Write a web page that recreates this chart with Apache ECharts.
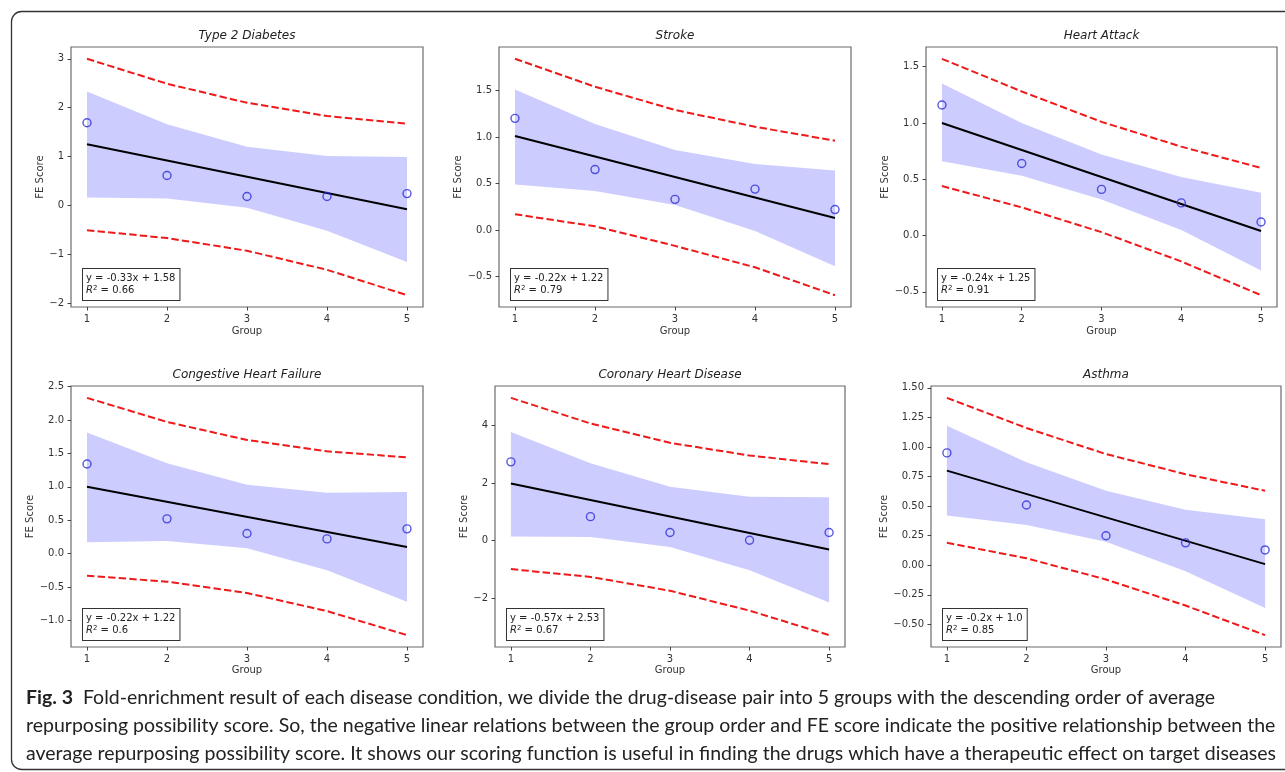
<!DOCTYPE html>
<html>
<head>
<meta charset="utf-8">
<script src="https://cdn.jsdelivr.net/npm/echarts@6/dist/echarts.min.js"></script>
<style>
html,body{margin:0;padding:0;background:#fff;}
#chart{width:1285px;height:772px;}
</style>
</head>
<body>
<div id="chart"></div>
<script>
// ---------------- data ----------------
const groups = [1, 2, 3, 4, 5];
const titles = ['Type 2 Diabetes', 'Stroke', 'Heart Attack', 'Congestive Heart Failure', 'Coronary Heart Disease', 'Asthma'];
const observed = [
  [1.69, 0.61, 0.18, 0.18, 0.24],
  [1.20, 0.65, 0.33, 0.44, 0.22],
  [1.16, 0.64, 0.41, 0.29, 0.12],
  [1.34, 0.52, 0.30, 0.22, 0.37],
  [2.73, 0.83, 0.28, 0.01, 0.28],
  [0.95, 0.51, 0.25, 0.19, 0.13]
];
// fitted line value at group 1 and group 5
const fitEnds = [
  [1.25, -0.08],
  [1.01, 0.13],
  [1.00, 0.04],
  [1.00, 0.10],
  [1.98, -0.31],
  [0.80, 0.01]
];
const ciUpper = [
  [2.33, 1.66, 1.20, 1.01, 0.99],
  [1.51, 1.14, 0.86, 0.71, 0.64],
  [1.35, 1.00, 0.72, 0.52, 0.38],
  [1.81, 1.35, 1.03, 0.91, 0.92],
  [3.77, 2.68, 1.87, 1.52, 1.50],
  [1.18, 0.87, 0.63, 0.47, 0.39]
];
const ciLower = [
  [0.16, 0.14, -0.05, -0.52, -1.16],
  [0.49, 0.42, 0.27, -0.01, -0.39],
  [0.66, 0.53, 0.32, 0.05, -0.31],
  [0.17, 0.19, 0.08, -0.25, -0.72],
  [0.14, 0.12, -0.22, -1.03, -2.15],
  [0.42, 0.34, 0.20, -0.05, -0.36]
];
const piUpper = [
  [3.00, 2.49, 2.10, 1.83, 1.67],
  [1.84, 1.54, 1.29, 1.11, 0.96],
  [1.57, 1.28, 1.01, 0.79, 0.60],
  [2.33, 1.97, 1.70, 1.53, 1.44],
  [4.95, 4.06, 3.39, 2.95, 2.65],
  [1.415, 1.16, 0.94, 0.77, 0.63]
];
const piLower = [
  [-0.51, -0.67, -0.93, -1.32, -1.84],
  [0.17, 0.04, -0.17, -0.40, -0.70],
  [0.44, 0.25, 0.03, -0.23, -0.53],
  [-0.33, -0.42, -0.59, -0.86, -1.22],
  [-0.99, -1.26, -1.74, -2.43, -3.28],
  [0.19, 0.06, -0.12, -0.34, -0.59]
];
const xTickLabels = ['1', '2', '3', '4', '5'];
const yTickLabels = [
  ['3', '2', '1', '0', '\u22121', '\u22122'],
  ['1.5', '1.0', '0.5', '0.0', '\u22120.5'],
  ['1.5', '1.0', '0.5', '0.0', '\u22120.5'],
  ['2.5', '2.0', '1.5', '1.0', '0.5', '0.0', '\u22120.5', '\u22121.0'],
  ['4', '2', '0', '\u22122'],
  ['1.50', '1.25', '1.00', '0.75', '0.50', '0.25', '0.00', '\u22120.25', '\u22120.50']
];
const equations = ['y = -0.33x + 1.58', 'y = -0.22x + 1.22', 'y = -0.24x + 1.25', 'y = -0.22x + 1.22', 'y = -0.57x + 2.53', 'y = -0.2x + 1.0'];
const r2Values = ['0.66', '0.79', '0.91', '0.6', '0.67', '0.85'];
const xAxisName = 'Group';
const yAxisName = 'FE Score';
const captionBold = 'Fig. 3';
const captionLines = [
  'Fold-enrichment result of each disease condition, we divide the drug-disease pair into 5 groups with the descending order of average',
  'repurposing possibility score. So, the negative linear relations between the group order and FE score indicate the positive relationship between the',
  'average repurposing possibility score. It shows our scoring function is useful in finding the drugs which have a therapeutic effect on target diseases'
];

// ---------------- layout ----------------
const gridBoxes = [
  {left: 71, top: 47, width: 352, height: 260},
  {left: 499, top: 47, width: 352, height: 260},
  {left: 926, top: 47, width: 351, height: 260},
  {left: 71, top: 386, width: 352, height: 261},
  {left: 495, top: 386, width: 350, height: 261},
  {left: 931, top: 386, width: 350, height: 261}
];
const yNameGaps = [26, 35, 36, 35, 26, 42];
const FONT = '"DejaVu Sans", sans-serif';
const parseTick = s => parseFloat(s.replace('\u2212', '-'));

const grid = [], xAxis = [], yAxis = [], series = [], graphic = [];

gridBoxes.forEach((b, k) => {
  grid.push(Object.assign({show: true, borderColor: '#6a6a6a', borderWidth: 1.2, backgroundColor: 'rgba(0,0,0,0)', containLabel: false}, b));

  const all = [].concat(piUpper[k], piLower[k], ciUpper[k], ciLower[k], observed[k]);
  const lo = Math.min.apply(null, all), hi = Math.max.apply(null, all);
  const pad = (hi - lo) * 0.05;
  const xPad = (groups[groups.length - 1] - groups[0]) * 0.05;
  const xVals = xTickLabels.map(parseTick);
  const yVals = yTickLabels[k].map(parseTick);
  const labelMap = {};
  yTickLabels[k].forEach((s, i) => { labelMap[yVals[i]] = s; });

  xAxis.push({
    type: 'value', gridIndex: k, position: 'bottom',
    min: groups[0] - xPad, max: groups[groups.length - 1] + xPad,
    axisLine: {show: false, onZero: false},
    splitLine: {show: false},
    axisTick: {show: true, length: 3.5, customValues: xVals, lineStyle: {color: '#333', width: 0.9}},
    axisLabel: {show: true, customValues: xVals, margin: 7, color: '#333', fontSize: 10, fontFamily: FONT,
      formatter: v => xTickLabels[xVals.indexOf(v)] || String(v)},
    name: xAxisName, nameLocation: 'middle', nameGap: k < 3 ? 19 : 18,
    nameTextStyle: {color: '#333', fontSize: 10, fontFamily: FONT}
  });
  yAxis.push({
    type: 'value', gridIndex: k, position: 'left',
    min: lo - pad, max: hi + pad,
    axisLine: {show: false, onZero: false},
    splitLine: {show: false},
    axisTick: {show: true, length: 3.5, customValues: yVals, lineStyle: {color: '#333', width: 0.9}},
    axisLabel: {show: true, customValues: yVals, margin: 7, color: '#333', fontSize: 10, fontFamily: FONT,
      formatter: v => labelMap[v] !== undefined ? labelMap[v] : String(v)},
    name: yAxisName, nameLocation: 'middle', nameGap: yNameGaps[k],
    nameTextStyle: {color: '#333', fontSize: 10, fontFamily: FONT}
  });

  // confidence band
  series.push({
    type: 'custom', xAxisIndex: k, yAxisIndex: k, z: 1, silent: true,
    data: [[groups[0], ciUpper[k][0]]],
    renderItem: (params, api) => {
      const pts = [];
      groups.forEach((g, i) => pts.push(api.coord([g, ciUpper[k][i]])));
      for (let i = groups.length - 1; i >= 0; i--) pts.push(api.coord([groups[i], ciLower[k][i]]));
      return {type: 'polygon', shape: {points: pts}, style: {fill: 'rgba(0,0,255,0.2)', stroke: 'none'}};
    }
  });
  // prediction interval lines
  [piUpper[k], piLower[k]].forEach(arr => {
    series.push({
      type: 'line', xAxisIndex: k, yAxisIndex: k, z: 3, symbol: 'none', silent: true,
      data: groups.map((g, i) => [g, arr[i]]),
      lineStyle: {color: '#ee1a1a', width: 2, type: [7.4, 3.2]}
    });
  });
  // fitted regression line
  series.push({
    type: 'line', xAxisIndex: k, yAxisIndex: k, z: 4, symbol: 'none', silent: true,
    data: [[groups[0], fitEnds[k][0]], [groups[groups.length - 1], fitEnds[k][1]]],
    lineStyle: {color: '#000', width: 2}
  });
  // observed points
  series.push({
    type: 'scatter', xAxisIndex: k, yAxisIndex: k, z: 5, silent: true,
    data: groups.map((g, i) => [g, observed[k][i]]),
    symbol: 'circle', symbolSize: 8,
    itemStyle: {color: 'rgba(0,0,0,0)', borderColor: '#2c2cd6', borderWidth: 1.4}
  });

  // panel title
  graphic.push({
    type: 'text', x: b.left + b.width / 2, y: b.top - 11, silent: true,
    style: {text: titles[k], align: 'center', verticalAlign: 'middle', fill: '#222',
      fontSize: 12, fontStyle: 'italic', fontFamily: FONT}
  });
  // equation box
  graphic.push({
    type: 'text', x: b.left + 12, y: b.top + b.height - 7, z: 10, silent: true,
    style: {
      text: '{a|' + equations[k] + '}\n{i|R}{s|2}{a| = ' + r2Values[k] + '}',
      align: 'left', verticalAlign: 'bottom',
      backgroundColor: '#fff', borderColor: '#333', borderWidth: 1,
      padding: [3, 4, 3, 3],
      rich: {
        a: {fontSize: 10, fontFamily: FONT, fill: '#222', lineHeight: 12.5},
        i: {fontSize: 10, fontFamily: FONT, fontStyle: 'italic', fill: '#222', lineHeight: 12.5},
        s: {fontSize: 7, fontFamily: FONT, fill: '#222', lineHeight: 12.5, padding: [0, 0, 5, 0]}
      }
    }
  });
});

// outer frame
graphic.push({
  type: 'rect', silent: true, z: 0,
  shape: {x: 11.5, y: 11.5, width: 1300, height: 758, r: 10},
  style: {fill: 'none', stroke: '#333', lineWidth: 1.3}
});
// caption
const capY = [698, 726, 754];
captionLines.forEach((line, i) => {
  graphic.push({
    type: 'text', x: 26, y: capY[i], silent: true,
    style: {
      text: i === 0 ? '{b|' + captionBold + '}{n|  ' + line + '}' : '{n|' + line + '}',
      align: 'left', verticalAlign: 'middle',
      rich: {
        b: {fontSize: 19.5, fontWeight: 'bold', fontFamily: 'Lato, sans-serif', fill: '#222'},
        n: {fontSize: 19.5, fontFamily: 'Lato, sans-serif', fill: '#222'}
      }
    }
  });
});

const chart = echarts.init(document.getElementById('chart'), null, {renderer: 'canvas'});
chart.setOption({
  animation: false,
  backgroundColor: '#fff',
  grid, xAxis, yAxis, series, graphic
});
</script>
</body>
</html>
